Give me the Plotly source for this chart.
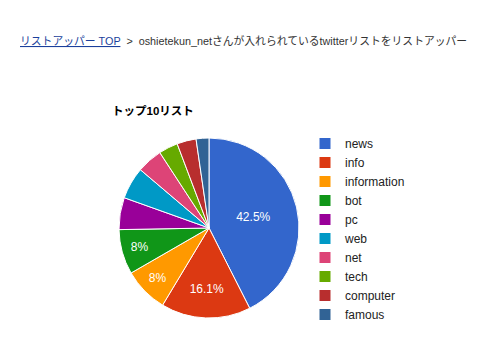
import plotly.graph_objects as go

labels = ["news", "info", "information", "bot", "pc", "web", "net", "tech", "computer", "famous"]
values = [37, 14, 7, 7, 5, 5, 4, 3, 3, 2]
colors = ["#3366cc", "#dc3912", "#ff9900", "#109618", "#990099",
          "#0099c6", "#dd4477", "#66aa00", "#b82e2e", "#316395"]
title_text = "トップ10リスト"
link_text = "リストアッパー TOP"
crumb_text = "oshietekun_netさんが入れられているtwitterリストをリストアッパー"

total = sum(values)
slice_text = []
for v in values:
    p = v / total * 100
    slice_text.append(f"{round(p, 1):g}%" if p >= 7.5 else "")

FONT = "Arial, 'Liberation Sans', 'Noto Sans CJK JP', sans-serif"

fig = go.Figure(go.Pie(
    labels=labels, values=values, text=slice_text,
    textinfo="text", textposition="inside", insidetextorientation="horizontal",
    sort=False, direction="clockwise", rotation=0,
    marker=dict(colors=colors, line=dict(color="white", width=1)),
    textfont=dict(color="white", size=12, family=FONT),
    domain=dict(x=[118/480, 300/480], y=[1-318/358, 1-138/358]),
    hoverinfo="label+percent",
))

fig.update_layout(
    width=480, height=358,
    margin=dict(l=0, r=0, t=0, b=0),
    paper_bgcolor="white", plot_bgcolor="white",
    font=dict(family=FONT, size=12, color="#222222"),
    showlegend=True,
    legend=dict(x=305/480, y=1-129/358, xanchor="left", yanchor="top",
                font=dict(size=12, color="#222222"), tracegroupgap=0,
                itemwidth=30, bgcolor="rgba(0,0,0,0)"),
    annotations=[
        dict(x=18/480, y=1-40/358, xref="paper", yref="paper", xanchor="left", yanchor="middle",
             showarrow=False, align="left",
             text=(f"<span style='color:#1a3f9c;text-decoration:underline'>{link_text}</span>"
                   f"<span style='color:#333333'>  &gt;  {crumb_text}</span>"),
             font=dict(size=10.8, family=FONT)),
        dict(x=110/480, y=1-111/358, xref="paper", yref="paper", xanchor="left", yanchor="middle",
             showarrow=False, text=f"<b>{title_text}</b>",
             font=dict(size=11.5, color="#000000", family=FONT)),
    ],
)

fig.write_html("out.html")
